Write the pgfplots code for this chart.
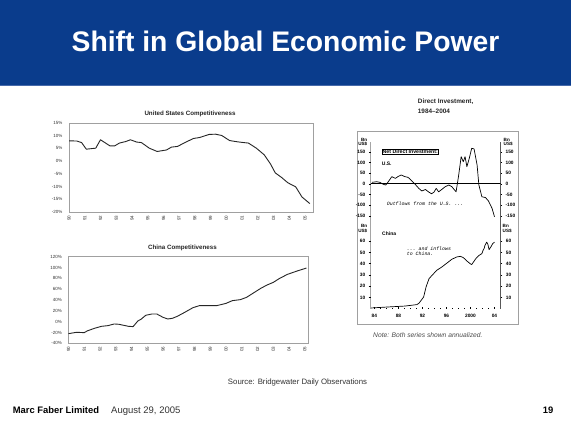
\documentclass[border=0pt]{standalone}
\usepackage{fontspec}
\setmainfont{Liberation Sans}
\setmonofont{Liberation Mono}
\usepackage{pgfplots}
\pgfplotsset{compat=1.18}
\definecolor{band}{RGB}{10,60,140}
\definecolor{bandline}{RGB}{70,105,170}
\definecolor{framegray}{RGB}{160,160,160}
\begin{document}
\begin{tikzpicture}
\begin{scope}[x=1pt,y=1pt]
\path[use as bounding box, fill=white] (0,0) rectangle (571,428);
\fill[band] (0,343) rectangle (571,428);
\draw[bandline, line width=1.2pt] (0,342.8) -- (571,342.8);
\node[anchor=base, text=white, inner sep=0pt, font=\fontsize{28.3}{30}\bfseries\selectfont] at (285.5,376) {Shift in Global Economic Power};
\node[font=\fontsize{6.2}{7}\bfseries\selectfont, text=black!85, inner sep=0pt] at (190,314) {United States Competitiveness};
\node[font=\fontsize{6.2}{7}\bfseries\selectfont, text=black!85, inner sep=0pt] at (182.5,179.7) {China Competitiveness};
\node[anchor=west, inner sep=0pt, font=\fontsize{6.4}{7}\bfseries\selectfont, text=black!85] at (417.7,326.3) {Direct Investment,};
\node[anchor=west, inner sep=0pt, font=\fontsize{6.4}{7}\bfseries\selectfont, text=black!85] at (417.7,317) {1984–2004};
\draw[framegray, line width=0.5pt] (357,104) rectangle (518,297);
\end{scope}

% ---------- US competitiveness ----------
\begin{axis}[at={(69pt,216pt)}, anchor=south west, width=244pt, height=89pt, scale only axis,
  xmin=1990, xmax=2005.5, ymin=-20, ymax=15,
  axis line style={framegray, line width=0.5pt},
  ytick={-20,-15,-10,-5,0,5,10,15},
  yticklabels={-20\%,-15\%,-10\%,-5\%,0\%,5\%,10\%,15\%},
  xtick={1990,1991,1992,1993,1994,1995,1996,1997,1998,1999,2000,2001,2002,2003,2004,2005},
  xticklabels={90,91,92,93,94,95,96,97,98,99,00,01,02,03,04,05},
  tick style={draw=none},
  ticklabel style={font=\fontsize{4.5}{5}\selectfont, text=black!80},
  yticklabel style={xshift=-3pt},
  xticklabel style={rotate=90, anchor=east},
]
\addplot[line width=0.9pt, black!85, line join=round] coordinates {
(1990.0,8.0) (1990.5,7.9) (1990.8,7.3) (1991.1,4.7) (1991.4,4.9) (1991.7,5.1) (1992.0,8.4) (1992.3,7.2) (1992.6,6.0) (1992.9,6.0) (1993.2,7.1) (1993.6,7.7) (1993.9,8.4) (1994.3,7.5) (1994.6,7.3) (1995.1,5.1) (1995.6,3.8) (1996.2,4.4) (1996.5,5.5) (1996.9,5.8) (1997.3,7.1) (1997.9,8.9) (1998.3,9.3) (1998.9,10.5) (1999.3,10.6) (1999.7,10.1) (2000.2,8.1) (2000.7,7.6) (2001.1,7.3) (2001.4,7.1) (2001.9,5.1) (2002.4,2.5) (2002.8,-1.1) (2003.1,-4.6) (2003.5,-6.4) (2003.9,-8.5) (2004.4,-10.1) (2004.8,-14.1) (2005.3,-16.7)
};
\end{axis}

% ---------- China competitiveness ----------
\begin{axis}[at={(68.5pt,84.7pt)}, anchor=south west, width=239.5pt, height=86.6pt, scale only axis,
  xmin=1990, xmax=2005.2, ymin=-40, ymax=120,
  axis line style={framegray, line width=0.5pt},
  ytick={-40,-20,0,20,40,60,80,100,120},
  yticklabels={-40\%,-20\%,0\%,20\%,40\%,60\%,80\%,100\%,120\%},
  xtick={1990,1991,1992,1993,1994,1995,1996,1997,1998,1999,2000,2001,2002,2003,2004,2005},
  xticklabels={90,91,92,93,94,95,96,97,98,99,00,01,02,03,04,05},
  tick style={draw=none},
  ticklabel style={font=\fontsize{4.5}{5}\selectfont, text=black!80},
  yticklabel style={xshift=-3pt},
  xticklabel style={rotate=90, anchor=east},
]
\addplot[line width=0.9pt, black!85, line join=round] coordinates {
(1990.0,-22.2) (1990.5,-19.7) (1991.0,-20.3) (1991.2,-17) (1991.65,-12.3) (1992.1,-8.6) (1992.5,-7.4) (1992.9,-4.3) (1993.2,-4.9) (1993.8,-8.6) (1994.1,-9.2) (1994.4,1.2) (1994.6,4.3) (1994.9,11.7) (1995.3,14.2) (1995.6,14.2) (1996.0,8.0) (1996.3,4.9) (1996.6,6.2) (1996.9,9.8) (1997.3,16) (1997.9,25.8) (1998.3,29.5) (1999.0,29.5) (1999.4,29.5) (2000.0,33.8) (2000.4,38.8) (2000.9,40.6) (2001.3,44.9) (2001.7,52.3) (2002.2,61.5) (2002.6,67.7) (2003.0,72.6) (2003.4,80) (2003.9,87.4) (2004.5,93.5) (2005.1,99)
};
\end{axis}

% upper panel, left labels
\begin{axis}[at={(370.5pt,206.3pt)}, anchor=south west, width=130pt, height=80pt, scale only axis,
  xmin=1983.35, xmax=2005, ymin=-178, ymax=197,
  axis line style={draw=none}, xtick=\empty,
  ytick={-150,-100,-50,0,50,100,150},
  yticklabels={-150,-100,-50,0,50,100,150},
  ytick pos=left, yticklabel pos=left, ytick align=outside,
  major tick length=1.6pt, tick style={black, line width=0.4pt},
  ticklabel style={font=\fontsize{4.8}{5}\bfseries\selectfont},
]
\draw[black, line width=0.5pt] (rel axis cs:0,0) -- (rel axis cs:0,1);
\draw[black, line width=0.5pt] (rel axis cs:1,0) -- (rel axis cs:1,1);
\draw[black, line width=0.5pt] (axis cs:1983.35,0) -- (axis cs:2005,0);
\addplot[line width=0.7pt, black, line join=round] coordinates {
(1983.6,6.5) (1984.4,9.4) (1984.9,6.5) (1985.5,-3) (1985.9,-6) (1986.3,9) (1986.9,33) (1987.5,25) (1987.9,33) (1988.45,41) (1989.1,33) (1989.6,30) (1990.1,17) (1990.7,0) (1991.4,-22) (1991.9,-34) (1992.5,-27) (1993.0,-38) (1993.5,-47) (1993.9,-40) (1994.3,-22) (1994.7,-38) (1995.3,-25) (1995.8,-14) (1996.4,-6) (1996.9,-14) (1997.6,-38) (1998.0,33) (1998.45,127) (1998.8,103) (1999.1,127) (1999.4,80) (1999.8,119) (2000.2,166) (2000.6,163) (2001.1,88) (2001.4,-6) (2001.9,-61) (2002.5,-65) (2003.0,-81) (2003.6,-116) (2004.0,-155)
};
\end{axis}
% upper panel, right labels
\begin{axis}[at={(370.5pt,206.3pt)}, anchor=south west, width=130pt, height=80pt, scale only axis,
  xmin=1983.35, xmax=2005, ymin=-178, ymax=197,
  axis line style={draw=none}, xtick=\empty,
  ytick={-150,-100,-50,0,50,100,150},
  yticklabels={-150,-100,-50,0,50,100,150},
  ytick pos=right, yticklabel pos=right, ytick align=outside,
  major tick length=1.6pt, tick style={black, line width=0.4pt},
  ticklabel style={font=\fontsize{4.8}{5}\bfseries\selectfont},
]
\end{axis}

% lower panel, left labels
\begin{axis}[at={(370.5pt,119pt)}, anchor=south west, width=130pt, height=87pt, scale only axis,
  xmin=1983.35, xmax=2005, ymin=0, ymax=76.8,
  axis line style={draw=none},
  xtick={1984,1988,1992,1996,2000,2004},
  xticklabels={84,88,92,96,2000,04},
  minor xtick={1984,1985,...,2004},
  xtick pos=left, xtick align=inside,
  ytick={10,20,30,40,50,60},
  yticklabels={10,20,30,40,50,60},
  ytick pos=left, yticklabel pos=left, ytick align=outside,
  major tick length=1.8pt, minor tick length=1.3pt,
  tick style={black, line width=0.4pt},
  ticklabel style={font=\fontsize{4.8}{5}\bfseries\selectfont},
  xticklabel style={yshift=-1.5pt},
]
\draw[black, line width=0.5pt] (rel axis cs:0,0) -- (rel axis cs:0,1);
\draw[black, line width=0.5pt] (rel axis cs:1,0) -- (rel axis cs:1,1);
\draw[black, line width=0.8pt] (rel axis cs:0,0) -- (rel axis cs:1,0);
\addplot[line width=0.7pt, black, line join=round] coordinates {
(1983.45,0.9) (1986.3,1.8) (1989.1,2.6) (1991.1,3.9) (1991.45,5.3) (1992.2,10.6) (1992.6,19.4) (1993.1,26.8) (1993.7,30.3) (1994.4,34.2) (1995.2,37) (1996.1,40.6) (1996.9,43.9) (1997.7,45.9) (1998.3,46.5) (1998.8,45.4) (1999.4,42.4) (1999.95,40) (2000.2,39.2) (2000.9,44.5) (2001.45,47.4) (2001.9,48.9) (2002.1,51.8) (2002.3,53.8) (2002.4,56) (2002.7,59) (2002.9,57) (2003.1,52.4) (2003.45,55.3) (2003.7,57.7) (2004.0,59)
};
\end{axis}
% lower panel, right labels
\begin{axis}[at={(370.5pt,119pt)}, anchor=south west, width=130pt, height=87pt, scale only axis,
  xmin=1983.35, xmax=2005, ymin=0, ymax=76.8,
  axis line style={draw=none}, xtick=\empty,
  ytick={10,20,30,40,50,60},
  yticklabels={10,20,30,40,50,60},
  ytick pos=right, yticklabel pos=right, ytick align=outside,
  major tick length=1.8pt, tick style={black, line width=0.4pt},
  ticklabel style={font=\fontsize{4.8}{5}\bfseries\selectfont},
]
\end{axis}

\begin{scope}[x=1pt,y=1pt]
% Bn US$ labels
\node[anchor=east, align=right, inner sep=0pt, font=\fontsize{4.6}{4.6}\bfseries\selectfont] at (367.5,286) {Bn\\US\$};
\node[anchor=west, align=left, inner sep=0pt, font=\fontsize{4.6}{4.6}\bfseries\selectfont] at (503.5,286) {Bn\\US\$};
\node[anchor=east, align=right, inner sep=0pt, font=\fontsize{4.6}{4.6}\bfseries\selectfont] at (367.5,199.3) {Bn\\US\$};
\node[anchor=west, align=left, inner sep=0pt, font=\fontsize{4.6}{4.6}\bfseries\selectfont] at (502.5,199.3) {Bn\\US\$};
% panel annotations
\node[anchor=west, draw=black, line width=0.4pt, inner sep=0.8pt, font=\fontsize{5.2}{5.5}\bfseries\selectfont] at (381.7,276.3) {Net Direct Investment:};
\node[anchor=west, inner sep=0pt, font=\fontsize{5}{5}\bfseries\selectfont] at (381.7,264.7) {U.S.};
\node[anchor=west, inner sep=0pt, font=\fontsize{4.9}{5}\ttfamily\itshape] at (386.7,224.7) {Outflows from the U.S. ...};
\node[anchor=west, inner sep=0pt, font=\fontsize{5}{5}\bfseries\selectfont] at (382,194) {China};
\node[anchor=west, inner sep=0pt, font=\fontsize{4.9}{5}\ttfamily\itshape] at (406.7,179.7) {... and inflows};
\node[anchor=west, inner sep=0pt, font=\fontsize{4.9}{5}\ttfamily\itshape] at (406.7,174.7) {to China.};
\node[anchor=west, inner sep=0pt, font=\fontsize{6.7}{7}\itshape\selectfont, text=black!70] at (373,93) {Note: Both series shown annualized.};
% footer
\node[inner sep=0pt, font=\fontsize{7.8}{8}\selectfont, text=black!80] at (297.5,45.7) {Source: Bridgewater Daily Observations};
\node[anchor=base west, inner sep=0pt, font=\fontsize{9.4}{10}\bfseries\selectfont] at (12.7,14.6) {Marc Faber Limited};
\node[anchor=base west, inner sep=0pt, font=\fontsize{9.5}{10}\selectfont, text=black!80] at (111,14.6) {August 29, 2005};
\node[anchor=base east, inner sep=0pt, font=\fontsize{9.4}{10}\bfseries\selectfont] at (553.5,14.6) {19};
\end{scope}
\end{tikzpicture}
\end{document}
